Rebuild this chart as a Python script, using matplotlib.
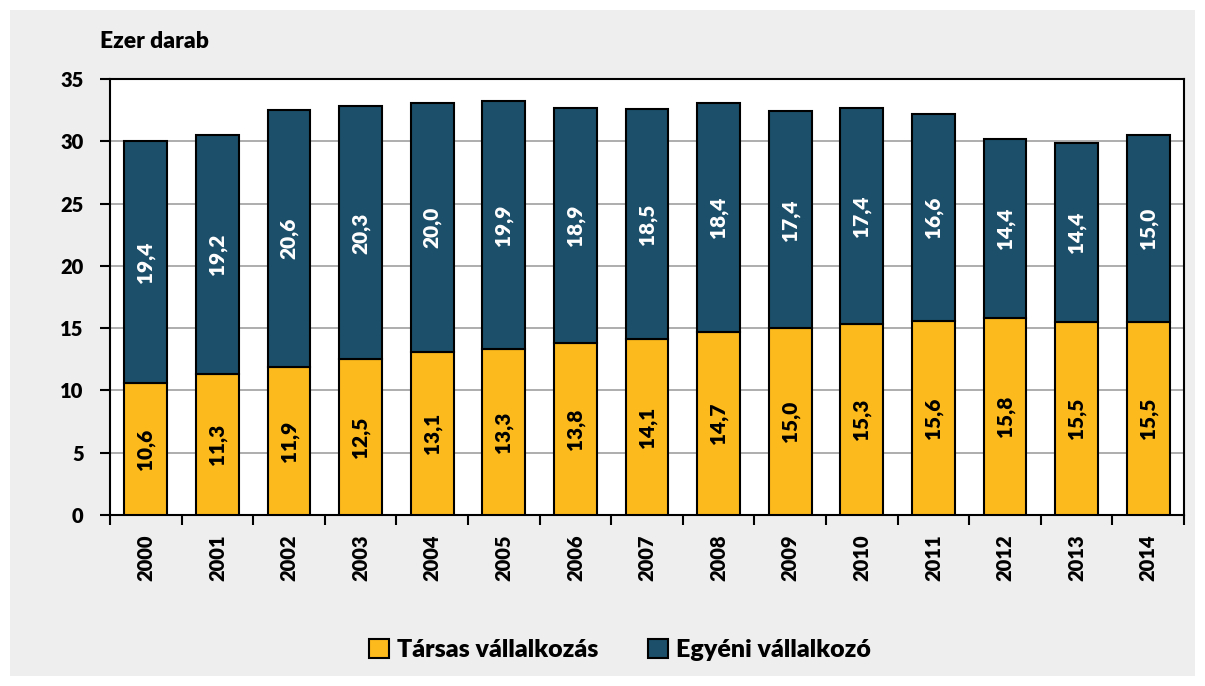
import numpy as np
import matplotlib
matplotlib.use('Agg')
import matplotlib.pyplot as plt
from matplotlib.patches import Rectangle

years = [str(y) for y in range(2000, 2015)]
tarsas = [10.6, 11.3, 11.9, 12.5, 13.1, 13.3, 13.8, 14.1, 14.7, 15.0, 15.3, 15.6, 15.8, 15.5, 15.5]
egyeni = [19.4, 19.2, 20.6, 20.3, 20.0, 19.9, 18.9, 18.5, 18.4, 17.4, 17.4, 16.6, 14.4, 14.4, 15.0]

plt.rcParams.update({'font.family': ['Lato', 'DejaVu Sans'], 'font.weight': 'heavy'})

c_tarsas = '#FDBA1C'
c_egyeni = '#1B4F6A'

fig = plt.figure(figsize=(12.05, 6.86), dpi=100, facecolor='white')
fig.patches.append(Rectangle((10 / 1205, 10 / 686), 1185 / 1205, 666 / 686,
                             transform=fig.transFigure, facecolor='#EEEEEE',
                             edgecolor='none', zorder=-1))
ax = fig.add_axes([110 / 1205, 171 / 686, 1074 / 1205, 436 / 686])
ax.set_facecolor('white')

x = np.arange(len(years))
w = 0.6
b1 = ax.bar(x, tarsas, w, color=c_tarsas, edgecolor='black', linewidth=1.5,
            label='Társas vállalkozás', zorder=3)
b2 = ax.bar(x, egyeni, w, bottom=tarsas, color=c_egyeni, edgecolor='black',
            linewidth=1.5, label='Egyéni vállalkozó', zorder=3)

for i in range(len(years)):
    ax.text(x[i], tarsas[i] / 2, f'{tarsas[i]:.1f}'.replace('.', ','),
            rotation=90, ha='center', va='center', fontsize=15,
            fontweight='heavy', color='black', zorder=4)
    ax.text(x[i], tarsas[i] + egyeni[i] / 2, f'{egyeni[i]:.1f}'.replace('.', ','),
            rotation=90, ha='center', va='center', fontsize=15,
            fontweight='heavy', color='white', zorder=4)

ax.set_xlim(-0.5, len(years) - 0.5)
ax.set_ylim(0, 35)
ax.set_yticks(range(0, 36, 5))
ax.yaxis.grid(True, color='#A0A0A0', linewidth=1.2, zorder=0)
ax.set_axisbelow(True)

ax.set_xticks(x)
ax.set_xticklabels(years, rotation=90, fontsize=14.5, fontweight='heavy')
ax.tick_params(axis='x', length=0, pad=14)
ax.set_xticks(np.arange(-0.5, len(years), 1), minor=True)
ax.tick_params(axis='x', which='minor', length=7, width=1.5, direction='out')
ax.tick_params(axis='y', length=7, width=1.5, direction='out', labelsize=14.5, pad=12)
for lbl in ax.get_yticklabels():
    lbl.set_fontweight('heavy')
for s in ax.spines.values():
    s.set_linewidth(1.5)
    s.set_color('black')

fig.text(100 / 1205, 1 - 42 / 686, 'Ezer darab', fontsize=16.5, fontweight='heavy',
         va='center', ha='left')

fig.legend(handles=[b1, b2], loc='center', bbox_to_anchor=(620 / 1205, 1 - 650 / 686),
           ncol=2, frameon=False, handlelength=0.8, handleheight=0.8,
           handletextpad=0.3, columnspacing=2.0, prop={'weight': 'heavy', 'size': 18})

fig.savefig('out.png', dpi=100, facecolor='white')
